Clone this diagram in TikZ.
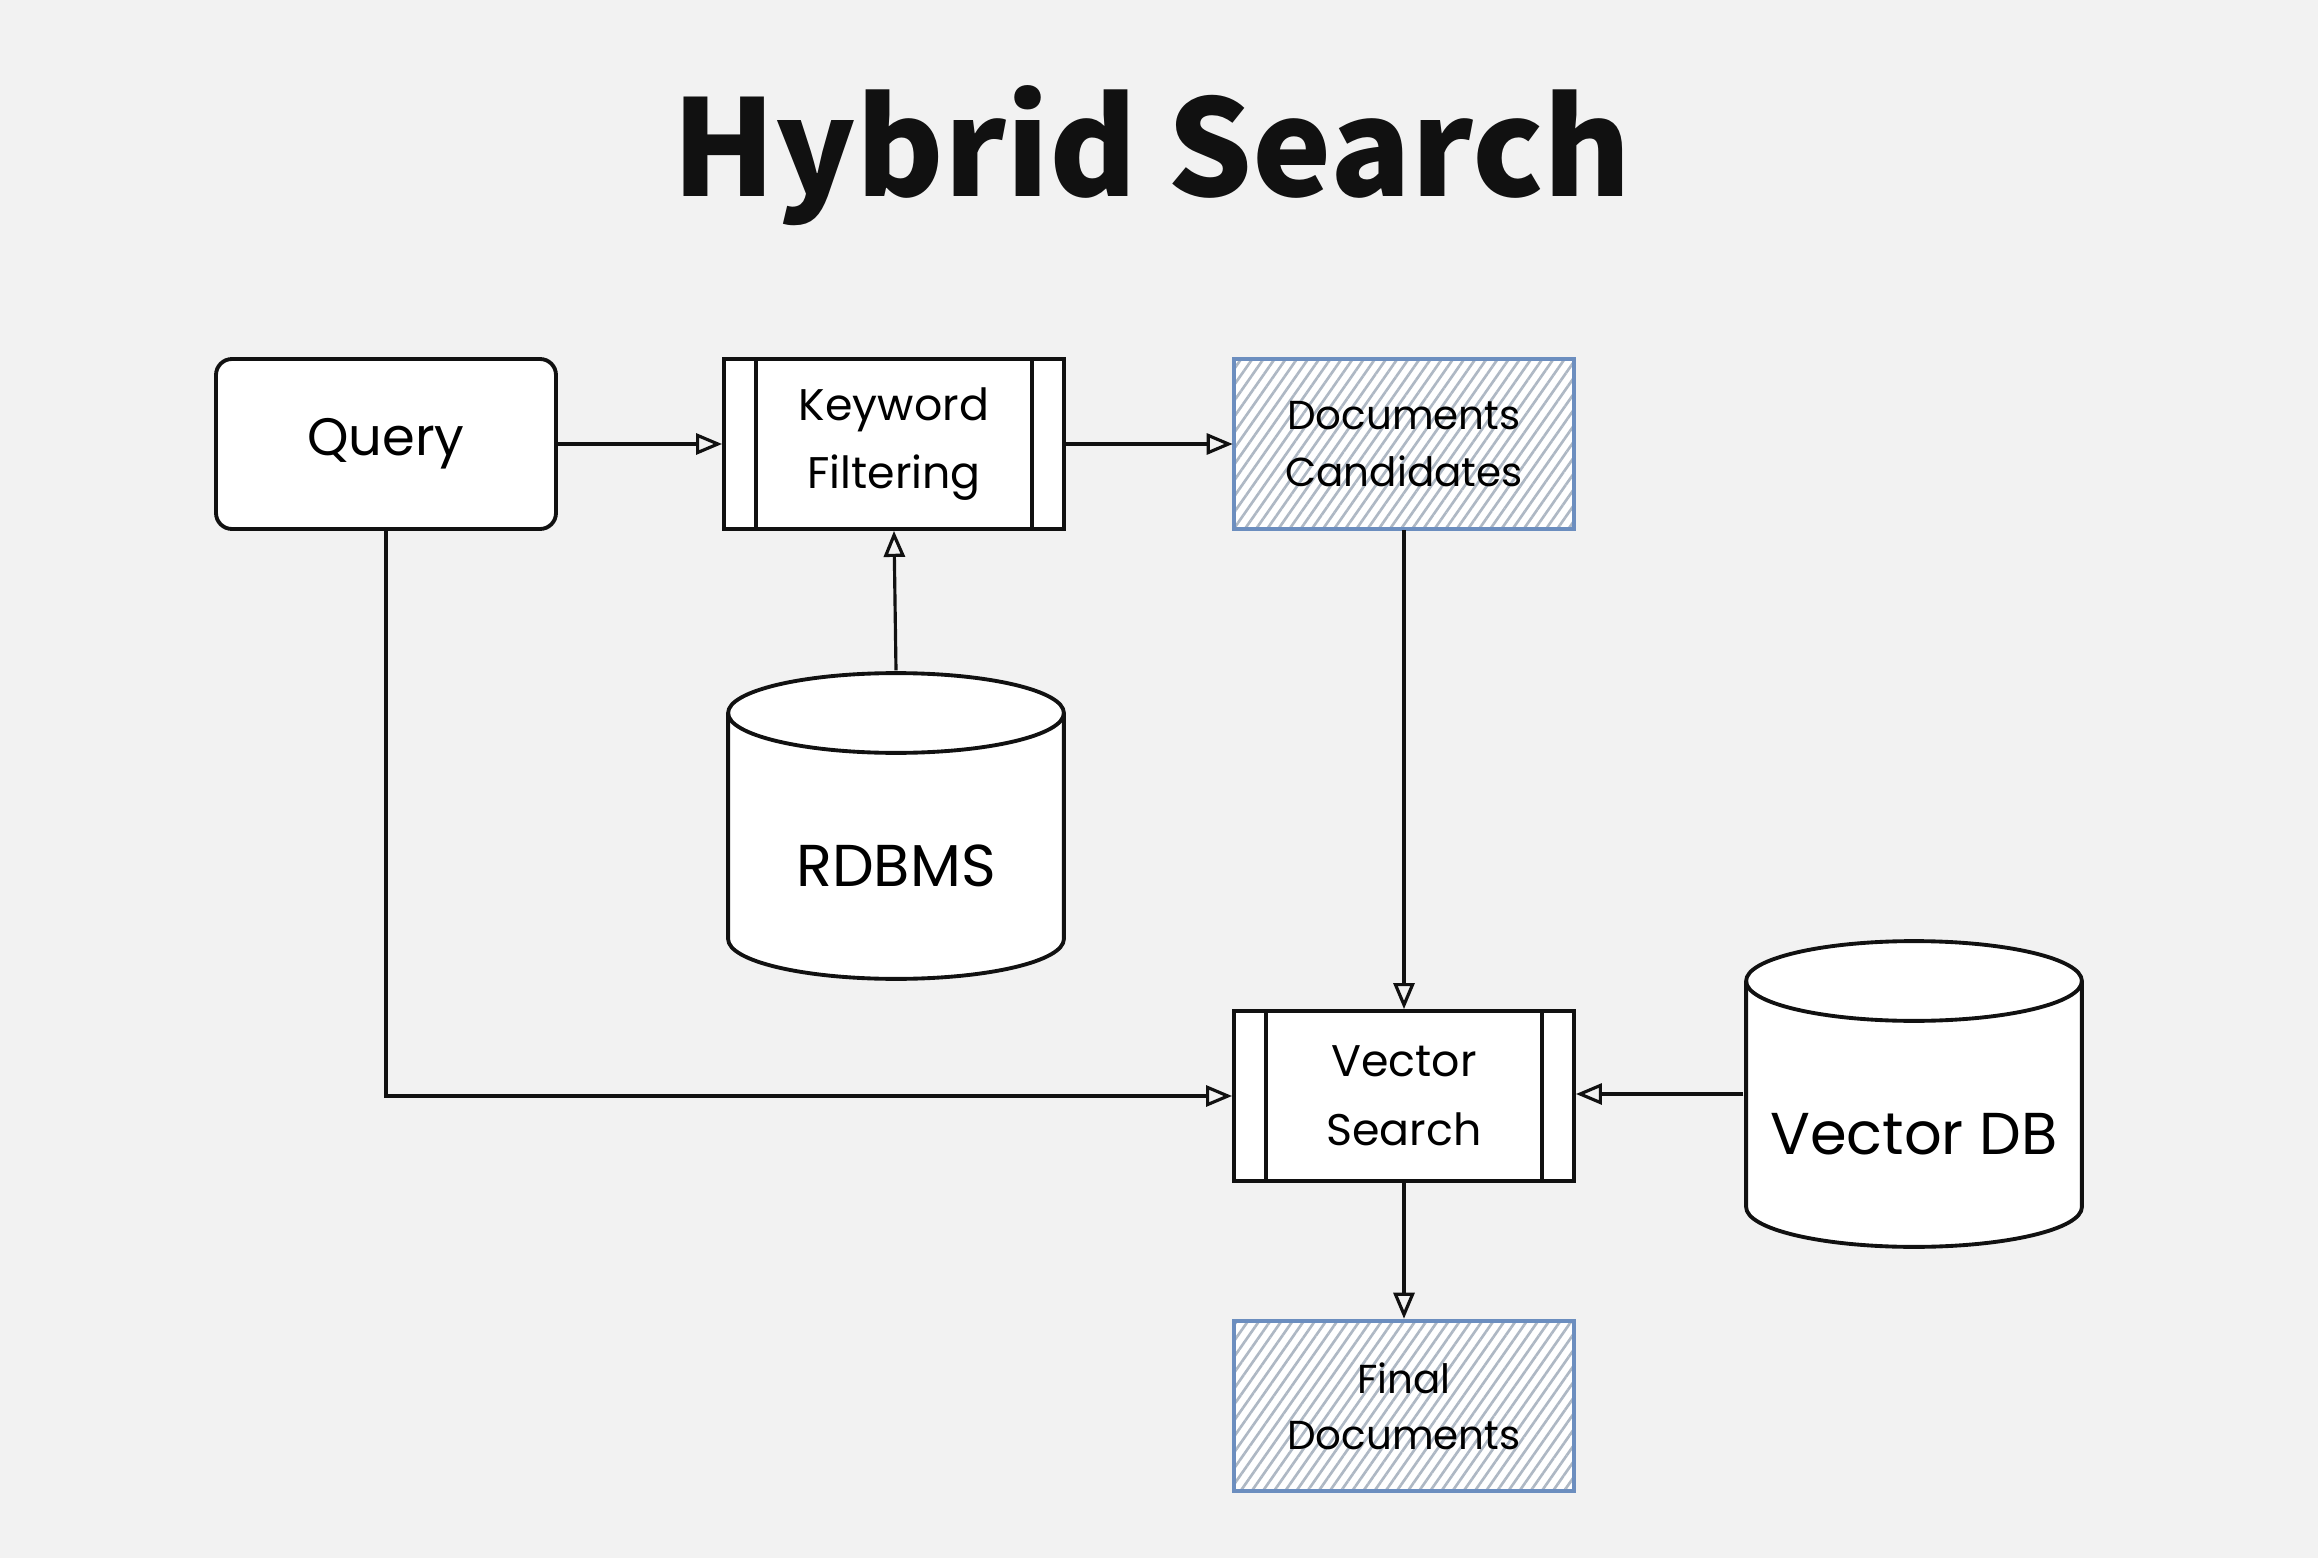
\documentclass[tikz,border=0pt]{standalone}
\usepackage{fontspec}
\setmainfont{Poppins}
\newfontfamily\titlefont{Noto Sans CJK SC}
\usepackage{xcolor}
\definecolor{page}{HTML}{F2F2F2}
\definecolor{ink}{HTML}{111111}
\definecolor{blu}{HTML}{6C8EBF}
\definecolor{hatch}{HTML}{AEB8C4}
\usetikzlibrary{arrows.meta,calc,patterns.meta}
\newcommand\ppb{path picture bounding box}
\tikzset{
  >={Triangle[open,length=2.6mm,width=2.1mm]},
  box/.style={draw=ink,line width=1.1pt,fill=white,minimum width=34mm,minimum height=17mm,inner sep=0pt,align=center,font=\fontsize{12.6}{19.5}\selectfont},
  rbox/.style={box,rounded corners=1.6mm,font=\fontsize{15}{18}\selectfont},
  pbox/.style={box,path picture={
    \draw[ink,line width=1pt] ($(\ppb.north west)+(3.2mm,0)$) -- ($(\ppb.south west)+(3.2mm,0)$)
      ($(\ppb.north east)+(-3.2mm,0)$) -- ($(\ppb.south east)+(-3.2mm,0)$);}},
  hbox/.style={box,draw=blu,line width=1.3pt,preaction={fill=white},pattern={Lines[angle=55,distance=2.6pt,line width=0.75pt]},pattern color=hatch,font=\fontsize{11.5}{16}\selectfont},
  dbox/.style={minimum width=34mm,minimum height=31mm,inner sep=0pt,text height=12mm,text depth=0pt,font=\fontsize{16.8}{19}\selectfont,path picture={
    \draw[ink,line width=1.1pt,fill=white] ($(\ppb.north west)+(0.6pt,-4.2mm)$) -- ($(\ppb.south west)+(0.6pt,4.2mm)$)
      arc[start angle=180,end angle=360,x radius=17mm-0.6pt,y radius=4.2mm-0.6pt] -- ($(\ppb.north east)+(-0.6pt,-4.2mm)$)
      arc[start angle=0,end angle=180,x radius=17mm-0.6pt,y radius=4.2mm-0.6pt] -- cycle;
    \draw[ink,line width=1.1pt] ($(\ppb.north west)+(0.6pt,-4.2mm)$) arc[start angle=180,end angle=360,x radius=17mm-0.6pt,y radius=4.2mm-0.6pt];}},
  arr/.style={->,draw=ink,line width=0.9pt},
}
\begin{document}
\begin{tikzpicture}[x=1mm,y=1mm]
\fill[page] (0,0) rectangle (231.8,155.8);
\useasboundingbox (0,0) rectangle (231.8,155.8);
\node[font=\titlefont\bfseries\fontsize{38}{42}\selectfont,text=ink,anchor=base] (title) at (115.2,136.1) {Hybrid Search};
% top row
\node[rbox] (qry) at (38.6,111.4) {Query};
\node[pbox] (kwf) at (89.4,111.4) {Keyword\\Filtering};
\node[hbox] (dcand) at (140.4,111.4) {Documents\\Candidates};
% stores
\node[dbox] (rdb) at (89.6,73.2) {RDBMS};
\node[dbox] (vdb) at (191.4,46.4) {Vector DB};
% vector side
\node[pbox] (vsrch) at (140.4,46.2) {Vector\\Search};
\node[hbox] (fdoc) at (140.4,15.2) {Final\\Documents};
% connectors
\draw[arr] (qry) -- (kwf);
\draw[arr] (kwf) -- (dcand);
\draw[arr] (rdb.north) -- (kwf.south);
\draw[arr] (dcand) -- (vsrch);
\draw[arr] (qry.south) |- (vsrch.west);
\draw[arr] (vdb.west) -- (vdb.west -| vsrch.east);
\draw[arr] (vsrch) -- (fdoc);
\end{tikzpicture}
\end{document}
